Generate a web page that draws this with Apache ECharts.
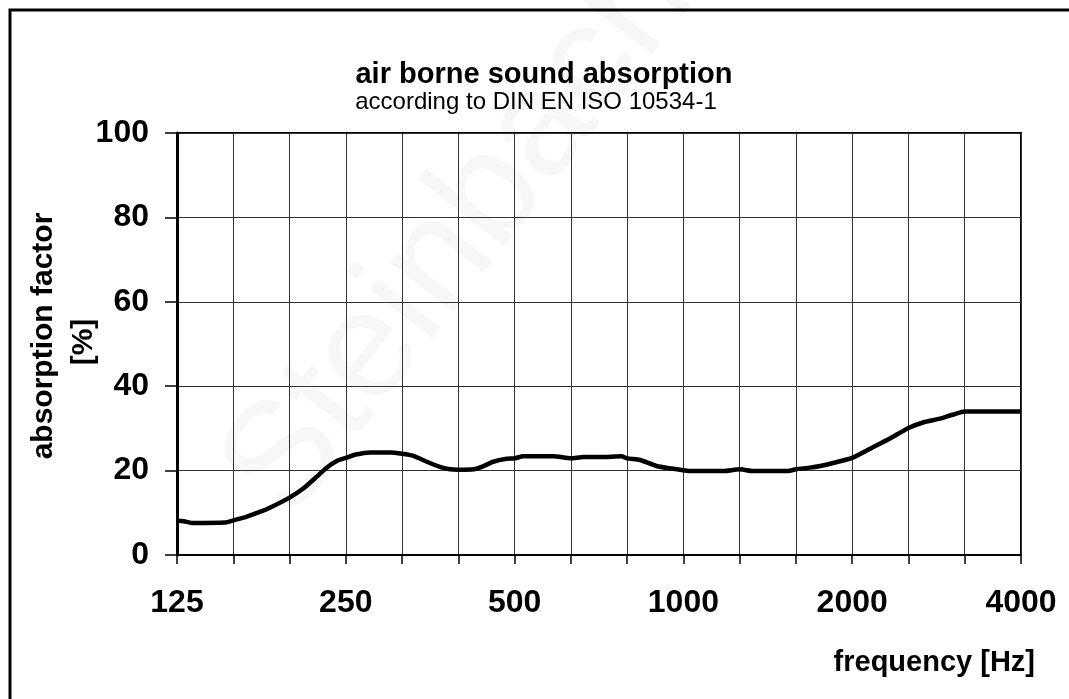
<!DOCTYPE html>
<html><head><meta charset="utf-8">
<script src="https://cdn.jsdelivr.net/npm/echarts@6/dist/echarts.min.js"></script>
<style>html,body{margin:0;padding:0;background:#fff}#c{width:1069px;height:699px}</style>
</head><body><div id="c"></div>
<script>
// frequency [Hz] of the sampled curve points
const freqHz = [125, 128.5, 132.8, 152.1, 157.5, 166.5, 175.6, 183, 198.4, 210.2, 221.7, 231.1, 240.9, 250,
  260.6, 276.1, 300, 315, 329.9, 348.7, 367.8, 383.4, 396.9, 422.4, 439.3, 457.9, 484, 500, 517.7, 586.5,
  630, 662.8, 710.5, 775.6, 793.7, 837.1, 895, 972.6, 1000, 1027.9, 1178.4, 1260, 1331.8, 1536.9, 1587,
  1681.8, 1753.4, 1849, 2000, 2153.6, 2335, 2520, 2675.8, 2867.9, 3031.6, 3175, 4000];
// absorption factor [%]
const absorption = [8.1, 8.0, 7.6, 7.7, 8.2, 9.1, 10.2, 11.2, 13.6, 15.8, 18.5, 20.7, 22.3, 23.0,
  23.8, 24.3, 24.3, 24.0, 23.5, 22.1, 20.9, 20.3, 20.2, 20.3, 21.0, 22.1, 22.8, 22.9, 23.4, 23.4,
  22.9, 23.2, 23.2, 23.4, 22.9, 22.5, 21.1, 20.3, 20.1, 19.9, 19.9, 20.3, 19.9, 19.9, 20.3,
  20.7, 21.1, 21.8, 23.0, 25.2, 27.6, 30.1, 31.4, 32.3, 33.3, 34.0, 34.0];
// third-octave band tick labels (only octave bands are labelled)
const bandLabels = ['125','','','250','','','500','','','1000','','','2000','','','4000'];
const baseFreq = 125;
const bandsPerOctave = 3;
const yMin = 0, yMax = 100, yStep = 20;

const titleText = 'air borne sound absorption';
const subtitleText = 'according to DIN EN ISO 10534-1';
const yNameLines = ['absorption factor', '[%]'];
const xName = 'frequency [Hz]';
const watermark = 'Steinbach';

const FONT = '"Liberation Sans", Arial, sans-serif';
const toBand = f => Math.log2(f / baseFreq) * bandsPerOctave;
const seriesData = freqHz.map((f, i) => [toBand(f), absorption[i]]);

const chart = echarts.init(document.getElementById('c'), null, {renderer: 'canvas'});
chart.setOption({
  backgroundColor: '#fff',
  animation: false,
  textStyle: {fontFamily: FONT},
  title: [
    {text: titleText, left: 539, top: 55, textAlign: 'center',
     textStyle: {fontFamily: FONT, fontSize: 29, fontWeight: 'bold', color: '#000'}},
    {text: subtitleText, left: 531, top: 85, textAlign: 'center',
     textStyle: {fontFamily: FONT, fontSize: 24, fontWeight: 'normal', color: '#000'}}
  ],
  graphic: [
    {type: 'text', z: -10, silent: true, x: 460, y: 235, rotation: Math.PI * 0.29,
     style: {text: watermark, font: '150px ' + FONT, fill: '#f7f7f7', align: 'center', verticalAlign: 'middle'}},
    {type: 'rect', silent: true, shape: {x: 10, y: 10, width: 1200, height: 1000},
     style: {fill: 'none', stroke: '#000', lineWidth: 3}},
    {type: 'text', silent: true, x: 44, y: 336, rotation: Math.PI / 2,
     style: {text: yNameLines[0], font: 'bold 30px ' + FONT, fill: '#000', align: 'center', verticalAlign: 'middle'}},
    {type: 'text', silent: true, x: 84, y: 342, rotation: Math.PI / 2,
     style: {text: yNameLines[1], font: 'bold 30px ' + FONT, fill: '#000', align: 'center', verticalAlign: 'middle'}},
    {type: 'text', silent: true, x: 1035, y: 663,
     style: {text: xName, font: 'bold 29px ' + FONT, fill: '#000', align: 'right', verticalAlign: 'middle'}}
  ],
  grid: {left: 177, right: 48, top: 133, bottom: 144, show: true, borderColor: '#000', borderWidth: 2, backgroundColor: 'transparent'},
  xAxis: {
    type: 'value', min: 0, max: (bandLabels.length - 1), interval: 1,
    axisLine: {show: true, onZero: false, lineStyle: {color: '#000', width: 2}},
    axisTick: {show: true, length: 9, lineStyle: {color: '#000', width: 1.5}},
    splitLine: {show: true, lineStyle: {color: '#333', width: 1}},
    axisLabel: {show: true, margin: 32, fontSize: 32, fontWeight: 'bold', color: '#000', fontFamily: FONT,
      showMinLabel: true, showMaxLabel: true,
      formatter: v => bandLabels[Math.round(v)] || ''}
  },
  yAxis: {
    type: 'value', min: yMin, max: yMax, interval: yStep,
    axisLine: {show: true, lineStyle: {color: '#000', width: 3}},
    axisTick: {show: true, length: 12, lineStyle: {color: '#000', width: 1.5}},
    splitLine: {show: true, lineStyle: {color: '#333', width: 1}},
    axisLabel: {margin: 28, fontSize: 32, fontWeight: 'bold', color: '#000', fontFamily: FONT}
  },
  series: [{
    type: 'line', data: seriesData, showSymbol: false, smooth: 0.2,
    lineStyle: {color: '#000', width: 4.5}, z: 5
  }]
});
</script></body></html>
